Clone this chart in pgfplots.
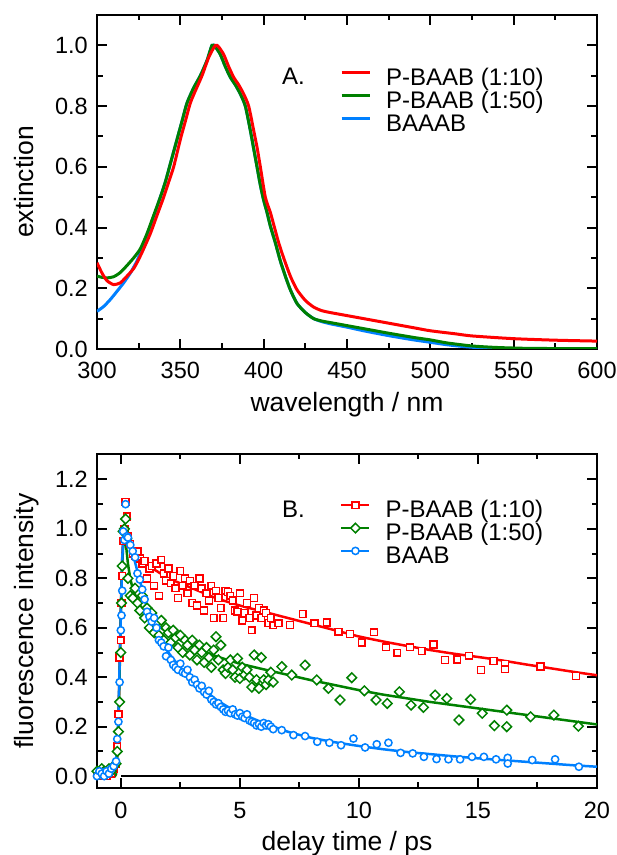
\documentclass[border=0pt]{standalone}
\usepackage{fontspec}
\setmainfont{Liberation Sans}
\usepackage{pgfplots}
\pgfplotsset{compat=1.18}
\definecolor{cred}{RGB}{255,0,0}
\definecolor{cgreen}{RGB}{0,128,0}
\definecolor{cblue}{RGB}{0,128,255}
\newcommand\tickfont{\fontsize{23.5}{28}\selectfont}
\newcommand\labfont{\fontsize{26.5}{32}\selectfont}
\newcommand\legfont{\fontsize{24}{30.5}\selectfont}
\pgfplotsset{
  myaxis/.style={
    scale only axis, width=500pt, height=334pt,
    axis line style={line width=2.2pt},
    every tick/.style={black, line width=2pt},
    major tick length=10pt, minor tick length=5.5pt,
    tick align=inside, xtick pos=both, ytick pos=both,
    ticklabel style={font=\tickfont},
    /pgf/number format/assume math mode=true,
    yticklabel style={anchor=east, inner sep=0pt, xshift=-9pt,
      /pgf/number format/.cd, fixed, fixed zerofill, precision=1},
    xticklabel style={anchor=north, inner sep=0pt},
    label style={font=\labfont},
    xlabel style={at={(axis description cs:0.5,-0.1886)}, anchor=base, inner sep=0pt},
    ylabel style={at={(axis description cs:-0.126,0.5)}, anchor=base, inner sep=0pt},
    legend style={draw=none, fill=none, font=\legfont, inner sep=0pt,
      nodes={inner sep=0pt}, row sep=0pt,
      /tikz/every odd column/.append style={column sep=15pt}},
    legend cell align=left,
  }
}
\begin{document}
\begin{tikzpicture}
\useasboundingbox (0,0) rectangle (617pt,855pt);
% ---------------- top panel ----------------
\begin{axis}[myaxis, at={(97pt,506pt)}, anchor=south west,
  xmin=300, xmax=600, ymin=0, ymax=1.1,
  xtick={300,350,...,600}, minor x tick num=1,
  ytick={0,0.2,0.4,0.6,0.8,1.0}, minor y tick num=1,
  xticklabel style={yshift=-13pt},
  xlabel={wavelength / nm}, ylabel={extinction},
  legend style={at={(0.486,0.854)}, anchor=north west},
  reverse legend]
\addplot[cblue, line width=3pt, smooth, tension=0.4,
  legend image code/.code={\draw[cblue,line width=3pt] (0pt,2.5pt)--(28pt,2.5pt);}]
  coordinates {(300,0.124) (304,0.14) (308,0.163) (312,0.19) (316,0.218) (320,0.25) (324,0.29) (327,0.33) (330,0.375) (334,0.435) (338,0.50) (341,0.55) (344,0.61) (348,0.69) (351,0.75) (354,0.81) (358,0.86) (362,0.90) (366,0.95) (369,1.0) (371,0.995) (374,0.97) (377,0.93) (380,0.895) (383,0.87) (386,0.84) (389,0.80) (392,0.72) (394,0.66) (396,0.60) (398,0.54) (400,0.49) (402,0.45) (404,0.405) (407,0.35) (410,0.29) (413,0.24) (416,0.195) (420,0.15) (425,0.12) (430,0.10) (435,0.09) (440,0.083) (450,0.072) (460,0.060) (475,0.044) (490,0.030) (500,0.022) (510,0.014) (520,0.008) (530,0.004) (540,0.002) (560,0.0) (600,0.0)};
\addlegendentry{BAAAB\strut}
\addplot[cgreen, line width=3pt, smooth, tension=0.4,
  legend image code/.code={\draw[cgreen,line width=3pt] (0pt,2.5pt)--(28pt,2.5pt);}]
  coordinates {(300,0.240) (303,0.236) (306,0.234) (310,0.238) (314,0.252) (318,0.275) (322,0.300) (326,0.33) (330,0.38) (334,0.44) (338,0.50) (341,0.55) (344,0.61) (348,0.69) (351,0.75) (354,0.81) (358,0.86) (362,0.90) (366,0.95) (369,1.0) (371,0.995) (374,0.97) (377,0.93) (380,0.895) (383,0.87) (386,0.84) (389,0.80) (392,0.72) (394,0.66) (396,0.60) (398,0.54) (400,0.49) (402,0.45) (404,0.405) (407,0.35) (410,0.29) (413,0.24) (416,0.195) (420,0.15) (425,0.12) (430,0.10) (435,0.092) (440,0.087) (450,0.077) (460,0.067) (475,0.052) (490,0.038) (500,0.030) (510,0.02) (525,0.01) (540,0.005) (560,0.002) (600,0.001)};
\addlegendentry{P-BAAB (1:50)\strut}
\addplot[cred, line width=3pt, smooth, tension=0.4,
  legend image code/.code={\draw[cred,line width=3pt] (0pt,2.5pt)--(28pt,2.5pt);}]
  coordinates {(300,0.284) (303,0.25) (306,0.225) (310,0.212) (314,0.218) (318,0.24) (322,0.265) (325,0.295) (328,0.33) (332,0.38) (336,0.44) (340,0.50) (343,0.55) (346,0.60) (350,0.69) (353,0.75) (356,0.81) (359,0.85) (363,0.90) (367,0.96) (371,1.0) (373,0.995) (376,0.97) (379,0.93) (382,0.895) (385,0.87) (388,0.84) (391,0.80) (394,0.72) (396,0.665) (398,0.60) (401,0.50) (404,0.45) (406,0.41) (409,0.35) (412,0.30) (416,0.24) (420,0.195) (425,0.16) (430,0.138) (435,0.126) (440,0.12) (450,0.11) (460,0.10) (475,0.085) (490,0.07) (500,0.06) (515,0.05) (525,0.043) (550,0.034) (575,0.029) (600,0.026)};
\addlegendentry{P-BAAB (1:10)\strut}
\node[anchor=base west, inner sep=0pt, font=\legfont] at (axis cs:411,0.871) {A.};
\end{axis}
% ---------------- bottom panel ----------------
\begin{axis}[myaxis, at={(97pt,67pt)}, anchor=south west,
  xmin=-1, xmax=20, ymin=-0.048, ymax=1.303,
  xtick={0,5,10,15,20}, minor x tick num=1,
  ytick={0,0.2,0.4,0.6,0.8,1.0,1.2}, minor y tick num=1,
  xticklabel style={yshift=-14pt},
  xlabel={delay time / ps}, ylabel={fluorescence intensity},
  legend style={at={(0.486,0.874)}, anchor=north west}]
\addplot[black, line width=2.2pt, forget plot] coordinates {(0,0) (20,0)};
% red
\addplot[cred, line width=2.5pt, smooth, tension=0.3,
  legend image code/.code={\draw[cred,line width=2.5pt] (0pt,2.5pt)--(28pt,2.5pt);
     \draw[cred,line width=1.5pt,fill=white] (14pt,2.5pt) +(-3.4pt,-3.4pt) rectangle +(3.4pt,3.4pt);}]
  coordinates {(-1,0) (-0.25,0) (-0.2,0.02) (-0.15,0.08) (-0.1,0.22) (-0.05,0.45) (0,0.68) (0.05,0.86) (0.1,0.96) (0.15,0.99) (0.2,0.985) (0.3,0.96) (0.5,0.92) (0.75,0.885) (1,0.86) (1.5,0.83) (2,0.80) (2.5,0.78) (3,0.76) (3.5,0.74) (4,0.72) (5,0.69) (6,0.665) (7,0.64) (8,0.615) (9,0.59) (10,0.565) (11,0.545) (12,0.527) (13,0.51) (14,0.495) (15,0.482) (16,0.468) (17,0.452) (18,0.437) (19,0.422) (20,0.408)};
\addlegendentry{P-BAAB (1:10)\strut}
\addplot[only marks, mark=square*, mark size=3.4pt, mark options={draw=cred, fill=white, line width=1.5pt}, forget plot]
  coordinates {(-1.0,0.01) (-0.9,0.00) (-0.8,0.02) (-0.7,0.01) (-0.6,0.00) (-0.5,0.02) (-0.4,0.01) (-0.3,0.03) (-0.2,0.05) (-0.15,0.12) (-0.1,0.25) (-0.05,0.48) (0,0.55) (0.03,0.70) (0.06,0.81) (0.1,0.95) (0.15,1.0) (0.2,1.11) (0.25,1.05) (0.3,0.97) (0.4,0.94) (0.5,0.90) (0.6,0.89) (0.7,0.91) (0.8,0.88) (0.9,0.86) (1.0,0.87) (1.1,0.80) (1.2,0.84) (1.3,0.85) (1.4,0.77) (1.5,0.86) (1.6,0.73) (1.7,0.875) (1.8,0.82) (1.9,0.79) (2.0,0.84) (2.1,0.78) (2.2,0.81) (2.3,0.76) (2.4,0.72) (2.5,0.83) (2.6,0.77) (2.7,0.80) (2.8,0.74) (2.9,0.79) (3.0,0.70) (3.1,0.77) (3.2,0.69) (3.3,0.80) (3.4,0.76) (3.5,0.67) (3.6,0.74) (3.7,0.71) (3.8,0.77) (3.9,0.64) (4.0,0.75) (4.1,0.72) (4.2,0.68) (4.3,0.64) (4.4,0.75) (4.5,0.745) (4.6,0.73) (4.7,0.71) (4.8,0.67) (4.9,0.665) (5.0,0.74) (5.1,0.63) (5.2,0.66) (5.3,0.70) (5.4,0.64) (5.5,0.59) (5.6,0.72) (5.7,0.65) (5.8,0.68) (5.9,0.64) (6.0,0.67) (6.1,0.66) (6.2,0.62) (6.3,0.64) (6.4,0.61) (6.62,0.618) (7.11,0.611) (7.64,0.656) (8.13,0.618) (8.65,0.621) (9.14,0.584) (9.63,0.575) (10.12,0.54) (10.63,0.582) (11.14,0.521) (11.61,0.499) (12.15,0.521) (12.64,0.506) (13.13,0.533) (13.62,0.47) (14.13,0.472) (14.62,0.487) (15.13,0.429) (15.65,0.466) (16.14,0.453) (16.14,0.432) (17.63,0.443) (19.12,0.405)};
% green
\addplot[cgreen, line width=2.5pt, smooth, tension=0.3,
  legend image code/.code={\draw[cgreen,line width=2.5pt] (0pt,2.5pt)--(28pt,2.5pt);
     \draw[cgreen,line width=1.5pt,fill=white] (14pt,2.5pt) +(0pt,-4.8pt) -- +(4.8pt,0pt) -- +(0pt,4.8pt) -- +(-4.8pt,0pt) -- cycle;}]
  coordinates {(-1,0) (-0.25,0) (-0.2,0.02) (-0.15,0.08) (-0.1,0.2) (-0.05,0.42) (0,0.65) (0.05,0.83) (0.1,0.93) (0.15,0.96) (0.2,0.95) (0.3,0.86) (0.4,0.80) (0.5,0.76) (0.75,0.70) (1,0.665) (1.5,0.615) (2,0.578) (2.5,0.55) (3,0.525) (3.5,0.503) (4,0.485) (5,0.455) (6,0.432) (7,0.41) (8,0.388) (9,0.368) (10,0.348) (11,0.33) (12,0.315) (13,0.30) (14,0.287) (15,0.274) (16,0.261) (17,0.248) (18,0.235) (19,0.222) (20,0.209)};
\addlegendentry{P-BAAB (1:50)\strut}
\addplot[only marks, mark=square*, mark size=3.4pt, mark options={draw=cgreen, fill=white, line width=1.5pt, rotate=45}, forget plot]
  coordinates {(-1.0,0.02) (-0.9,0.01) (-0.8,0.03) (-0.7,0.02) (-0.6,0.01) (-0.5,0.03) (-0.4,0.02) (-0.3,0.04) (-0.2,0.05) (-0.15,0.10) (-0.1,0.18) (-0.05,0.30) (0,0.50) (0.03,0.70) (0.06,0.85) (0.1,0.99) (0.15,1.0) (0.2,1.04) (0.25,0.96) (0.3,0.80) (0.4,0.73) (0.5,0.72) (0.6,0.76) (0.7,0.70) (0.8,0.67) (0.9,0.73) (1.0,0.64) (1.1,0.68) (1.2,0.60) (1.3,0.66) (1.4,0.58) (1.5,0.62) (1.6,0.57) (1.7,0.63) (1.8,0.55) (1.9,0.60) (2.0,0.58) (2.1,0.54) (2.2,0.59) (2.3,0.56) (2.4,0.52) (2.5,0.57) (2.6,0.50) (2.7,0.55) (2.8,0.53) (2.9,0.49) (3.0,0.55) (3.1,0.51) (3.2,0.47) (3.3,0.53) (3.4,0.50) (3.5,0.46) (3.6,0.52) (3.7,0.48) (3.8,0.44) (3.9,0.51) (4.0,0.564) (4.1,0.47) (4.2,0.53) (4.3,0.43) (4.4,0.415) (4.5,0.44) (4.6,0.47) (4.7,0.43) (4.8,0.40) (4.9,0.476) (5.0,0.395) (5.1,0.44) (5.2,0.41) (5.3,0.43) (5.4,0.40) (5.5,0.36) (5.6,0.49) (5.7,0.39) (5.8,0.355) (5.9,0.48) (6.0,0.39) (6.1,0.37) (6.2,0.389) (6.3,0.42) (6.4,0.38) (6.76,0.443) (7.18,0.409) (7.74,0.449) (8.23,0.389) (8.72,0.355) (9.21,0.308) (9.7,0.398) (10.23,0.345) (10.72,0.308) (11.19,0.294) (11.7,0.341) (12.19,0.287) (12.71,0.278) (13.2,0.328) (13.69,0.314) (14.2,0.227) (14.69,0.31) (15.18,0.254) (15.69,0.204) (16.21,0.267) (16.21,0.2) (17.21,0.24) (18.19,0.247) (19.22,0.202)};
% blue
\addplot[cblue, line width=2.5pt, smooth, tension=0.3,
  legend image code/.code={\draw[cblue,line width=2.5pt] (0pt,2.5pt)--(28pt,2.5pt);
     \draw[cblue,line width=1.5pt,fill=white] (14pt,2.5pt) circle (3.6pt);}]
  coordinates {(-1,0) (-0.3,0.01) (-0.2,0.06) (-0.15,0.13) (-0.1,0.25) (-0.05,0.45) (0,0.65) (0.05,0.85) (0.1,0.96) (0.15,0.99) (0.2,0.985) (0.3,0.96) (0.5,0.90) (0.75,0.81) (1,0.72) (1.25,0.645) (1.5,0.585) (2,0.50) (2.5,0.44) (3,0.39) (3.5,0.35) (4,0.31) (4.5,0.28) (5,0.255) (5.5,0.235) (6,0.215) (7,0.18) (8,0.155) (9,0.137) (10,0.122) (11,0.109) (12,0.098) (13,0.089) (14,0.08) (15,0.072) (16,0.065) (17,0.058) (18,0.051) (19,0.044) (20,0.038)};
\addlegendentry{BAAB\strut}
\addplot[only marks, mark=*, mark size=3.6pt, mark options={draw=cblue, fill=white, line width=1.5pt}, forget plot]
  coordinates {(-1.0,0.00) (-0.9,0.02) (-0.8,0.01) (-0.7,0.00) (-0.6,0.02) (-0.5,0.01) (-0.4,0.03) (-0.3,0.04) (-0.2,0.06) (-0.15,0.15) (-0.1,0.22) (-0.05,0.38) (0,0.59) (0.03,0.65) (0.06,0.75) (0.1,0.99) (0.15,0.955) (0.2,1.10) (0.25,0.97) (0.3,0.965) (0.4,0.935) (0.5,0.91) (0.6,0.885) (0.7,0.82) (0.8,0.795) (0.9,0.755) (1.0,0.715) (1.1,0.665) (1.2,0.645) (1.3,0.625) (1.4,0.64) (1.5,0.60) (1.6,0.55) (1.7,0.54) (1.8,0.525) (1.9,0.485) (2.0,0.52) (2.1,0.47) (2.2,0.45) (2.3,0.44) (2.4,0.43) (2.5,0.455) (2.6,0.42) (2.7,0.415) (2.8,0.43) (2.9,0.40) (3.0,0.38) (3.1,0.39) (3.2,0.37) (3.3,0.355) (3.4,0.365) (3.5,0.34) (3.6,0.33) (3.7,0.345) (3.8,0.31) (3.9,0.30) (4.0,0.29) (4.1,0.295) (4.2,0.28) (4.3,0.27) (4.4,0.26) (4.5,0.265) (4.6,0.255) (4.7,0.27) (4.8,0.25) (4.9,0.245) (5.0,0.255) (5.1,0.24) (5.2,0.235) (5.3,0.25) (5.4,0.225) (5.5,0.22) (5.6,0.215) (5.7,0.205) (5.8,0.21) (5.9,0.20) (6.0,0.215) (6.1,0.205) (6.2,0.21) (6.3,0.20) (6.4,0.19) (6.76,0.186) (7.25,0.166) (7.74,0.162) (8.25,0.139) (8.76,0.135) (9.25,0.125) (9.77,0.152) (10.26,0.116) (10.75,0.129) (11.24,0.135) (11.75,0.094) (12.26,0.092) (12.73,0.078) (13.26,0.069) (13.76,0.068) (14.25,0.068) (14.75,0.078) (15.25,0.078) (15.76,0.068) (16.25,0.074) (16.25,0.051) (17.28,0.065) (18.24,0.068) (19.24,0.038)};
\node[anchor=base west, inner sep=0pt, font=\legfont] at (axis cs:6.77,1.045) {B.};
\end{axis}
\end{tikzpicture}
\end{document}
